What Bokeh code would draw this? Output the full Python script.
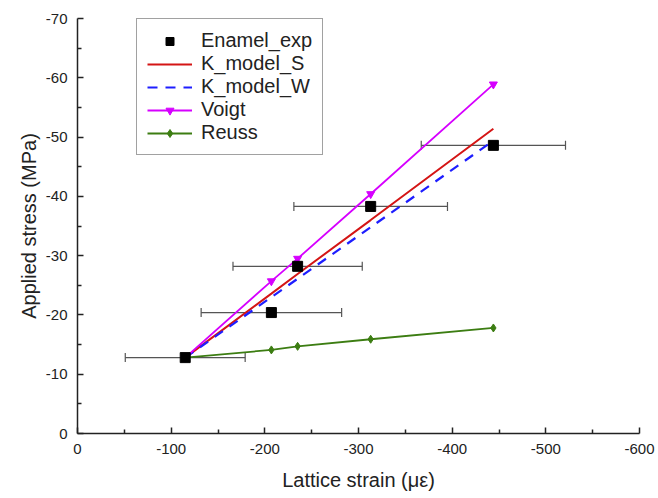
from bokeh.plotting import figure
from bokeh.models import (Range1d, FixedTicker, Whisker, TeeHead, ColumnDataSource,
                          Legend, LegendItem, CustomJSTickFormatter)
from bokeh.embed import file_html
from bokeh.resources import INLINE

# ---- data ----
strain = [-115, -207, -235, -313, -444]
exp_stress = [-12.8, -20.4, -28.2, -38.3, -48.6]
exp_err = [64, 75, 69, 82, 77]
k_model_s = [-12.8, -23.6, -26.9, -36.0, -51.4]
k_model_w = [-12.8, -23.0, -26.1, -34.8, -49.4]
voigt = [-12.8, -25.7, -29.5, -40.4, -58.9]
reuss = [-12.8, -14.1, -14.7, -15.9, -17.8]
x_ticks = [0, -100, -200, -300, -400, -500, -600]
y_ticks = [0, -10, -20, -30, -40, -50, -60, -70]

FONT = "Liberation Sans"

p = figure(width=658, height=496, output_backend="svg", toolbar_location=None,
           x_range=Range1d(0, -600), y_range=Range1d(0, -70),
           min_border_left=77, min_border_right=19, min_border_top=18,
           min_border_bottom=63)
p.outline_line_color = None
p.xgrid.visible = False
p.ygrid.visible = False

for ax, ticks in ((p.xaxis[0], x_ticks), (p.yaxis[0], y_ticks)):
    minor = [(ticks[i] + ticks[i + 1]) / 2 for i in range(len(ticks) - 1)]
    ax.ticker = FixedTicker(ticks=ticks, minor_ticks=minor)
    ax.formatter = CustomJSTickFormatter(code="return tick.toString();")
    ax.major_tick_in = 6
    ax.major_tick_out = 0
    ax.minor_tick_in = 4
    ax.minor_tick_out = 0
    ax.axis_line_width = 1.5
    ax.major_tick_line_width = 1.5
    ax.minor_tick_line_width = 1.5
    ax.axis_line_color = "#222222"
    ax.major_tick_line_color = "#222222"
    ax.minor_tick_line_color = "#222222"
    ax.major_label_text_font = FONT
    ax.major_label_text_font_size = "15px"
    ax.major_label_text_color = "#222222"
    ax.axis_label_text_font = FONT
    ax.axis_label_text_font_size = "20px"
    ax.axis_label_text_font_style = "normal"
    ax.axis_label_text_color = "#222222"

p.xaxis.axis_label = "Lattice strain (\u03bc\u03b5)"
p.yaxis.axis_label = "Applied stress (MPa)"
p.xaxis.major_label_standoff = 10
p.yaxis.major_label_standoff = 10
p.xaxis.axis_label_standoff = 12
p.yaxis.axis_label_standoff = 3

# error bars
lower = [s - e for s, e in zip(strain, exp_err)]
upper = [s + e for s, e in zip(strain, exp_err)]
src = ColumnDataSource(dict(base=exp_stress, lower=lower, upper=upper))
wh = Whisker(source=src, base="base", lower="lower", upper="upper", dimension="width",
             line_color="#555555", line_width=1.2,
             upper_head=TeeHead(size=9, line_color="#555555", line_width=1.2),
             lower_head=TeeHead(size=9, line_color="#555555", line_width=1.2))
p.add_layout(wh)

r_s = p.line(strain, k_model_s, line_color="#D41515", line_width=2)
r_w = p.line(strain, k_model_w, line_color="#1E1EFF", line_width=2.2, line_dash="10 8")
r_v = p.line(strain, voigt, line_color="#D600FF", line_width=1.8)
r_vm = p.scatter(strain, voigt, marker="inverted_triangle", size=8,
                 fill_color="#D600FF", line_color="#D600FF")
r_r = p.line(strain, reuss, line_color="#3C7D12", line_width=1.8)
r_rm = p.scatter(strain, reuss, marker="diamond", size=8,
                 fill_color="#3C7D12", line_color="#3C7D12")
r_e = p.scatter(strain, exp_stress, marker="square", size=10,
                fill_color="black", line_color="black")

legend = Legend(items=[
    LegendItem(label="Enamel_exp", renderers=[r_e]),
    LegendItem(label="K_model_S", renderers=[r_s]),
    LegendItem(label="K_model_W", renderers=[r_w]),
    LegendItem(label="Voigt", renderers=[r_v, r_vm]),
    LegendItem(label="Reuss", renderers=[r_r, r_rm]),
], location=(59, 278))
legend.label_text_font = FONT
legend.label_text_font_size = "20px"
legend.label_text_color = "#222222"
legend.glyph_width = 45
legend.glyph_height = 20
legend.label_height = 20
legend.spacing = 0
legend.label_standoff = 9
legend.padding = 10
legend.margin = 0
legend.border_line_color = "#444444"
legend.border_line_width = 1
legend.background_fill_alpha = 1
p.add_layout(legend)

open("out.html", "w").write(file_html(p, INLINE))
